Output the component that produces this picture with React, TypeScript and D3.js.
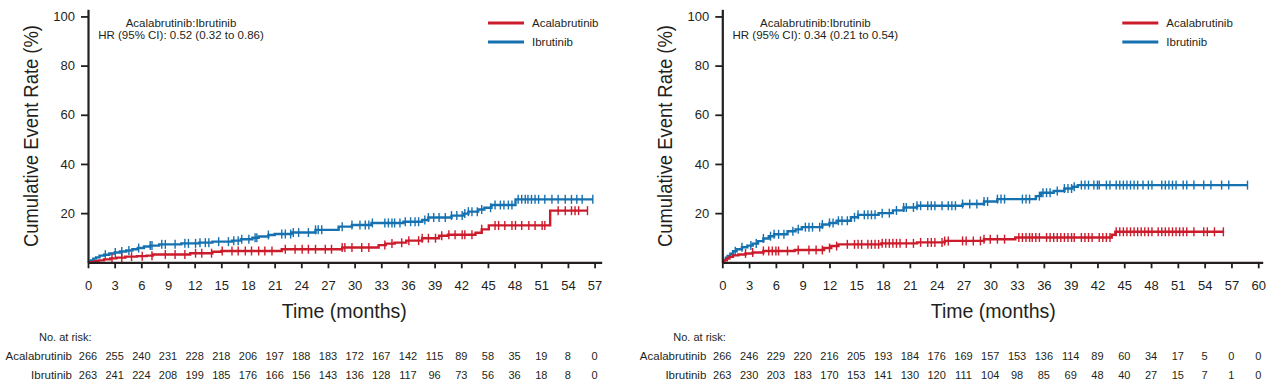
import React, { useEffect, useRef } from 'react';
import * as d3 from 'd3';

// colours
const RED = '#cc1b2b';
const BLUE = '#1671b0';
const INK = '#231f20';
const FONT = '"Liberation Sans", Arial, sans-serif';

// ---- left panel ----
const leftMonths = [0, 3, 6, 9, 12, 15, 18, 21, 24, 27, 30, 33, 36, 39, 42, 45, 48, 51, 54, 57];
const leftHR = 'HR (95% CI): 0.52 (0.32 to 0.86)';

const leftAcalaSteps: [number, number][] = [
  [0, 0], [0.8, 0.4], [1.2, 0.8], [1.8, 1.2], [2.5, 1.6], [3.2, 1.9], [4.2, 2.3], [5.5, 2.5],
  [6.6, 2.7], [7.3, 3.2], [11.5, 3.7], [14.0, 4.3], [15.0, 4.6], [21.8, 5.3], [28.6, 6.0],
  [32.7, 7.0], [33.5, 7.6], [34.5, 8.0], [35.8, 8.8], [37.6, 9.8], [39.5, 10.8], [40.5, 11.2],
  [43.6, 12.0], [44.3, 13.4], [45.1, 15.0], [52.0, 21.0],
];
const leftAcalaEnd = 56.2;
const leftAcalaCensor = [
  2.7, 3.8, 4.9, 6.1, 7.2, 8.7, 9.8, 10.9, 12.1, 12.8, 13.9, 15.1, 16.2, 16.9, 17.7, 18.4, 19.2,
  19.9, 20.7, 22.2, 23.3, 24.1, 24.8, 25.6, 26.7, 27.4, 28.6, 28.9, 29.7, 30.8, 31.6, 33.4, 34.2,
  35.3, 36.1, 37.2, 37.6, 38.3, 39.1, 39.8, 40.6, 41.3, 42.1, 42.4, 43.2, 44.3, 45.8, 46.2, 46.9,
  47.7, 48.1, 48.8, 49.6, 50.3, 51.1, 51.4, 52.9, 53.7, 54.4, 54.8, 55.2, 56.2,
];

const leftIbruSteps: [number, number][] = [
  [0, 0], [0.3, 0.8], [0.6, 1.5], [0.9, 2.0], [1.3, 2.7], [1.8, 3.1], [2.4, 3.6], [3.0, 4.0],
  [3.6, 4.4], [4.3, 4.8], [5.0, 5.3], [5.6, 5.8], [6.3, 6.4], [7.0, 6.8], [8.0, 7.3], [10.5, 7.7],
  [12.5, 8.0], [14.0, 8.4], [16.2, 8.8], [17.2, 9.4], [18.5, 10.0], [19.2, 10.5], [20.3, 11.1],
  [21.0, 11.5], [22.9, 12.1], [25.6, 13.2], [28.2, 14.5], [29.7, 15.2], [31.9, 16.0], [35.5, 16.5],
  [37.6, 17.2], [38.3, 18.2], [40.9, 19.0], [42.3, 19.8], [42.8, 20.6], [43.9, 21.5], [44.6, 22.2],
  [45.4, 23.3], [48.1, 25.6],
];
const leftIbruEnd = 56.8;
const leftIbruCensor = [
  1.95, 3.07, 3.8, 4.6, 5.7, 7.0, 7.2, 8.3, 8.7, 9.8, 10.9, 11.3, 12.1, 12.6, 13.2, 13.6, 14.7,
  15.8, 16.4, 16.9, 17.3, 18.1, 18.8, 19.0, 20.3, 21.8, 22.2, 22.8, 23.1, 23.7, 24.8, 25.6, 25.9,
  26.3, 28.6, 29.7, 30.6, 31.2, 31.6, 32.0, 33.4, 33.8, 34.2, 34.5, 35.1, 35.7, 36.3, 36.8, 37.2,
  37.9, 38.3, 38.9, 39.5, 40.2, 40.9, 41.5, 42.1, 42.4, 42.8, 43.2, 43.8, 44.3, 45.3, 45.8, 46.4,
  46.8, 47.3, 47.7, 48.4, 48.8, 49.2, 49.5, 49.9, 50.3, 50.7, 51.4, 52.2, 52.9, 53.7, 54.4, 55.0,
  55.6, 56.8,
];

const leftRiskAcala = [266, 255, 240, 231, 228, 218, 206, 197, 188, 183, 172, 167, 142, 115, 89, 58, 35, 19, 8, 0];
const leftRiskIbru = [263, 241, 224, 208, 199, 185, 176, 166, 156, 143, 136, 128, 117, 96, 73, 56, 36, 18, 8, 0];

// ---- right panel ----
const rightMonths = [0, 3, 6, 9, 12, 15, 18, 21, 24, 27, 30, 33, 36, 39, 42, 45, 48, 51, 54, 57, 60];
const rightHR = 'HR (95% CI): 0.34 (0.21 to 0.54)';

const rightAcalaSteps: [number, number][] = [
  [0, 0], [0.2, 0.8], [0.5, 1.5], [0.8, 2.2], [1.2, 2.8], [1.8, 3.2], [2.6, 3.6], [3.4, 4.0],
  [4.6, 4.6], [8.1, 5.0], [11.4, 5.8], [12.2, 6.6], [13.0, 7.3], [17.8, 7.7], [21.8, 8.1],
  [24.9, 8.7], [29.3, 9.4], [32.8, 10.1], [43.6, 11.2], [44.0, 12.4],
];
const rightAcalaEnd = 56.1;
const rightAcalaCensor = [
  2.6, 3.4, 4.6, 5.2, 5.6, 6.0, 6.3, 7.3, 8.5, 9.7, 10.5, 11.2, 12.0, 12.8, 14.0, 14.8, 15.2, 15.6,
  16.3, 16.7, 17.1, 17.5, 17.9, 18.3, 18.7, 19.1, 19.5, 19.9, 20.6, 21.4, 22.2, 23.0, 23.4, 23.8,
  24.6, 24.9, 25.3, 26.9, 27.3, 28.1, 28.9, 29.3, 30.0, 30.8, 31.6, 33.2, 33.6, 34.0, 34.4, 34.7,
  35.1, 35.5, 36.3, 36.7, 37.1, 37.5, 37.9, 38.3, 38.7, 39.1, 39.4, 40.2, 40.6, 41.0, 41.4, 42.2,
  42.6, 43.0, 43.4, 44.1, 44.5, 44.9, 45.3, 45.7, 46.1, 46.5, 46.9, 47.3, 47.7, 48.1, 48.8, 49.2,
  49.6, 50.0, 50.4, 50.8, 51.2, 51.6, 52.0, 52.8, 53.9, 54.3, 55.1, 56.1,
];

const rightIbruSteps: [number, number][] = [
  [0, 0], [0.2, 1.0], [0.4, 1.9], [0.6, 2.6], [0.9, 3.5], [1.2, 4.5], [1.6, 5.3], [2.2, 6.1],
  [2.8, 6.8], [3.4, 7.6], [4.0, 8.6], [4.6, 9.7], [5.2, 10.6], [5.8, 11.4], [7.3, 12.6],
  [8.2, 13.4], [8.9, 14.3], [11.2, 15.4], [12.0, 16.0], [12.8, 16.9], [14.4, 18.3], [15.2, 19.3],
  [17.5, 20.0], [19.1, 21.1], [20.3, 22.3], [21.8, 23.0], [26.9, 23.7], [29.3, 24.7], [30.8, 25.7],
  [35.1, 26.9], [35.7, 28.3], [37.1, 29.0], [38.3, 30.0], [39.2, 30.7], [39.8, 31.4],
];
const rightIbruEnd = 58.8;
const rightIbruCensor = [
  1.45, 2.2, 3.2, 3.8, 4.6, 5.4, 5.8, 6.3, 6.9, 7.9, 8.5, 9.3, 9.7, 10.1, 10.9, 11.2, 12.0, 12.4,
  13.0, 13.4, 14.0, 14.8, 15.2, 15.9, 16.3, 16.7, 17.1, 17.9, 18.7, 19.5, 20.3, 20.6, 21.4, 21.8,
  22.2, 23.0, 23.4, 23.8, 24.6, 25.3, 25.7, 26.1, 26.9, 27.7, 28.5, 29.3, 29.7, 30.8, 31.2, 31.6,
  33.6, 34.0, 34.4, 35.5, 35.9, 36.3, 36.7, 37.5, 38.3, 38.7, 39.1, 39.4, 40.2, 40.6, 41.0, 41.6,
  42.0, 42.2, 43.0, 43.4, 44.1, 44.5, 44.9, 45.3, 45.7, 46.1, 46.5, 47.1, 47.7, 48.1, 49.2, 49.6,
  50.0, 50.4, 50.8, 51.6, 52.0, 52.8, 53.9, 54.7, 55.9, 56.7, 58.8,
];

const rightRiskAcala = [266, 246, 229, 220, 216, 205, 193, 184, 176, 169, 157, 153, 136, 114, 89, 60, 34, 17, 5, 0, 0];
const rightRiskIbru = [263, 230, 203, 183, 170, 153, 141, 130, 120, 111, 104, 98, 85, 69, 48, 40, 27, 15, 7, 1, 0];

const yTicks = [20, 40, 60, 80, 100];

interface Series {
  name: string;
  color: string;
  steps: [number, number][];
  end: number;
  censor: number[];
  risk: number[];
}

interface PanelProps {
  x0: number; // pixel of month 0
  x1: number; // pixel where x-axis line stops
  xMax: number; // month at x1
  months: number[];
  hr: string;
  series: Series[];
}

const Y_BOTTOM = 262.3;
const Y_TOP = 9.3;

// value of a step curve at time t
function stepAt(steps: [number, number][], t: number) {
  const i = d3.bisector((d: [number, number]) => d[0]).right(steps, t) - 1;
  return steps[Math.max(0, i)][1];
}

function KMPanel({ x0, x1, xMax, months, hr, series }: PanelProps) {
  const gx = useRef<SVGGElement | null>(null);
  const gy = useRef<SVGGElement | null>(null);

  const x = d3.scaleLinear().domain([0, xMax]).range([x0, x1]);
  const y = d3.scaleLinear().domain([0, 102.9]).range([Y_BOTTOM, Y_TOP]);

  const line = d3.line<[number, number]>()
    .x(d => x(d[0]))
    .y(d => y(d[1]))
    .curve(d3.curveStepAfter);

  useEffect(() => {
    if (gx.current) {
      const g = d3.select(gx.current);
      g.call(d3.axisBottom(x).tickValues(months).tickSize(6).tickSizeOuter(0).tickPadding(12).tickFormat(d3.format('d')));
      g.attr('font-size', 13).attr('font-family', FONT);
      g.select('.domain').attr('stroke', INK).attr('stroke-width', 2.2);
      g.selectAll('.tick line').attr('stroke', INK).attr('stroke-width', 1.8);
      g.selectAll('.tick text').attr('fill', INK);
    }
    if (gy.current) {
      const g = d3.select(gy.current);
      g.call(d3.axisLeft(y).tickValues(yTicks).tickSize(7).tickSizeOuter(0).tickPadding(6));
      g.attr('font-size', 13).attr('font-family', FONT);
      g.select('.domain').attr('stroke', INK).attr('stroke-width', 2.2);
      g.selectAll('.tick line').attr('stroke', INK).attr('stroke-width', 1.8);
      g.selectAll('.tick text').attr('fill', INK);
    }
  }, [x, y, months]);

  const lastTick = months[months.length - 1];
  const midX = (x(0) + x(lastTick)) / 2;

  return (
    <g fontFamily={FONT} fill={INK}>
      {/* y-axis title */}
      <text
        transform={`translate(${x0 - 57},136) rotate(-90)`}
        textAnchor="middle"
        dy="0.35em"
        fontSize={19.5}
        textLength={222}
        lengthAdjust="spacingAndGlyphs"
      >
        Cumulative Event Rate (%)
      </text>
      {/* x-axis title */}
      <text x={midX + 3} y={318} textAnchor="middle" fontSize={19.5}>Time (months)</text>

      {/* hazard ratio note */}
      <text x={x0 + 93} y={27} textAnchor="middle" fontSize={11.5}>Acalabrutinib:Ibrutinib</text>
      <text x={x0 + 93} y={39} textAnchor="middle" fontSize={11.5}>{hr}</text>

      {/* legend */}
      {series.map((s, i) => (
        <g key={s.name}>
          <line x1={x0 + 400} x2={x0 + 436} y1={23 + i * 19} y2={23 + i * 19} stroke={s.color} strokeWidth={3} />
          <text x={x0 + 444} y={27 + i * 19} fontSize={11.5}>{s.name}</text>
        </g>
      ))}

      {/* curves (Ibrutinib drawn first so Acalabrutinib sits on top) */}
      {[...series].reverse().map(s => (
        <g key={s.name}>
          <path
            d={line([...s.steps, [s.end, s.steps[s.steps.length - 1][1]]]) || ''}
            fill="none"
            stroke={s.color}
            strokeWidth={2.4}
          />
          {s.censor.map((t, j) => {
            const cy = y(stepAt(s.steps, t));
            return <line key={j} x1={x(t)} x2={x(t)} y1={cy - 4.5} y2={cy + 4.5} stroke={s.color} strokeWidth={1.4} />;
          })}
        </g>
      ))}

      {/* axes */}
      <g ref={gx} transform={`translate(0,${Y_BOTTOM})`} />
      <g ref={gy} transform={`translate(${x0},0)`} />

      {/* number at risk */}
      <text x={x0 - 49} y={341} fontSize={11}>No. at risk:</text>
      {series.map((s, i) => (
        <g key={s.name} fontSize={11}>
          <text x={x0 - 16} y={360 + i * 19} textAnchor="end" fontSize={11.5}>{s.name}</text>
          {s.risk.map((n, j) => (
            <text key={j} x={x(months[j])} y={360 + i * 19} textAnchor="middle">{n}</text>
          ))}
        </g>
      ))}
    </g>
  );
}

export default function App() {
  const leftSeries: Series[] = [
    { name: 'Acalabrutinib', color: RED, steps: leftAcalaSteps, end: leftAcalaEnd, censor: leftAcalaCensor, risk: leftRiskAcala },
    { name: 'Ibrutinib', color: BLUE, steps: leftIbruSteps, end: leftIbruEnd, censor: leftIbruCensor, risk: leftRiskIbru },
  ];
  const rightSeries: Series[] = [
    { name: 'Acalabrutinib', color: RED, steps: rightAcalaSteps, end: rightAcalaEnd, censor: rightAcalaCensor, risk: rightRiskAcala },
    { name: 'Ibrutinib', color: BLUE, steps: rightIbruSteps, end: rightIbruEnd, censor: rightIbruCensor, risk: rightRiskIbru },
  ];

  return (
    <svg
      width={1268}
      height={387}
      style={{ position: 'absolute', left: 0, top: 0, background: '#fff' }}
    >
      <KMPanel x0={88} x1={601.7} xMax={57.8} months={leftMonths} hr={leftHR} series={leftSeries} />
      <KMPanel x0={722.3} x1={1262.7} xMax={60.5} months={rightMonths} hr={rightHR} series={rightSeries} />
    </svg>
  );
}
